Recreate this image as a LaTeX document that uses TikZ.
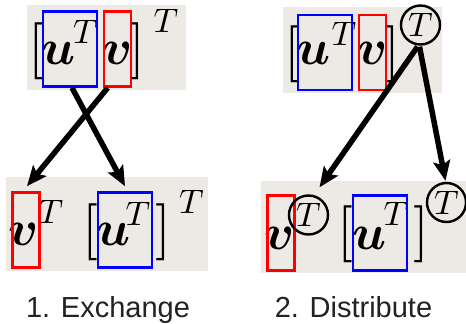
\documentclass[tikz,border=0pt]{standalone}
\usepackage{fontspec}
\usepackage{bm}
\usepackage{graphicx}
\newfontfamily\labelfont{Liberation Sans}
\usetikzlibrary{arrows.meta,calc}
\definecolor{bggray}{RGB}{237,234,229}
\definecolor{labelgray}{RGB}{34,34,34}
\newcommand{\bigtxt}[1]{\scalebox{5}{#1}}
\newcommand{\suptxt}[1]{\scalebox{3.4}{#1}}
\newcommand{\brktxt}[1]{\scalebox{5.7}{#1}}
\tikzset{
  bigm/.style={inner sep=0pt, anchor=base},
  supT/.style={inner sep=0pt, anchor=base},
  brk/.style={inner sep=0pt, anchor=center},
  bluebox/.style={draw=blue, line width=2.6pt, inner sep=0pt, minimum width=54pt, minimum height=75pt},
  redbox/.style={draw=red, line width=2.6pt, inner sep=0pt, minimum width=27pt, minimum height=75pt},
  circT/.style={circle, draw=black, line width=2.4pt, minimum size=39pt, inner sep=0pt},
  arr/.style={line width=5.5pt, -{Stealth[length=20pt,width=17pt,inset=4pt]}},
  lbl/.style={font=\labelfont\fontsize{29}{29}\selectfont, text=labelgray, inner sep=0pt, anchor=base}
}
\begin{document}
\begin{tikzpicture}[x=1pt,y=-1pt]
\useasboundingbox (0,0) rectangle (466,324);
% backgrounds
\fill[bggray] (27,5) rectangle (186,90);
\fill[bggray] (283,7) rectangle (442,93);
\fill[bggray] (6,177) rectangle (208,271);
\fill[bggray] (261,181) rectangle (466,273);

% ---- top left: [u^T v]^T
\node[brk] (tlL) at (36,51.5) {\brktxt{$[$}};
\node[bigm] (tlutxt) at (59,64) {\bigtxt{$\bm{u}$}};
\node[supT] (tlTu) at (85.5,43) {\suptxt{$T$}};
\node[bigm] (tlvtxt) at (118,64) {\bigtxt{$\bm{v}$}};
\node[brk] (tlR) at (137.5,51.5) {\brktxt{$]$}};
\node[supT] (tlT) at (166,32) {\suptxt{$T$}};
\node[bluebox] (tlu) at (70,49) {};
\node[redbox] (tlv) at (117.5,49) {};

% ---- bottom left: v^T [u^T]^T
\node[bigm] (blvtxt) at (24,245) {\bigtxt{$\bm{v}$}};
\node[supT] (blTv) at (51,223) {\suptxt{$T$}};
\node[brk] (blL) at (90,232) {\brktxt{$[$}};
\node[bigm] (blutxt) at (113.5,245) {\bigtxt{$\bm{u}$}};
\node[supT] (blTu) at (138,225) {\suptxt{$T$}};
\node[brk] (blR) at (163.5,232) {\brktxt{$]$}};
\node[supT] (blT) at (191.5,213) {\suptxt{$T$}};
\node[redbox] (blv) at (26,230) {};
\node[bluebox] (blu) at (125,230) {};

% ---- top right
\node[brk] (trL) at (292,54) {\brktxt{$[$}};
\node[bigm] (trutxt) at (314,64) {\bigtxt{$\bm{u}$}};
\node[supT] (trTu) at (344,45) {\suptxt{$T$}};
\node[bigm] (trvtxt) at (373,64) {\bigtxt{$\bm{v}$}};
\node[brk] (trR) at (392.5,54) {\brktxt{$]$}};
\node[bluebox] (tru) at (325,52.5) {};
\node[redbox] (trv) at (372.5,52.5) {};
\node[circT] (trc) at (420.5,25) {\suptxt{$T$}};

% ---- bottom right
\node[bigm] (brvtxt) at (280,249) {\bigtxt{$\bm{v}$}};
\node[brk] (brL) at (345.5,234.5) {\brktxt{$[$}};
\node[bigm] (brutxt) at (369.5,249) {\bigtxt{$\bm{u}$}};
\node[supT] (brTu) at (396,225) {\suptxt{$T$}};
\node[brk] (brR) at (421,234.5) {\brktxt{$]$}};
\node[redbox] (brv) at (281,233) {};
\node[bluebox] (bru) at (380,233) {};
\node[circT] (brc1) at (308.5,215) {\suptxt{$T$}};
\node[circT] (brc2) at (446.5,202.5) {\suptxt{$T$}};

% ---- arrows
\draw[arr] ($(tlu.south)+(2,0)$) -- ($(blu.north)+(0,-5)$);
\draw[arr] ($(tlv.south west)+(5,0)$) -- ($(blv.north)+(1,-5)$);
\draw[arr] ($(trc.south)+(-3,1)$) -- ($(brc1.north)+(11,-7)$);
\draw[arr] ($(trc.south)+(-1,1)$) -- ($(brc2.north)+(-1,-1)$);

% ---- labels
\node[lbl] (lab1) at (108,317) {1. Exchange};
\node[lbl] (lab2) at (353.5,317) {2. Distribute};
\end{tikzpicture}
\end{document}
